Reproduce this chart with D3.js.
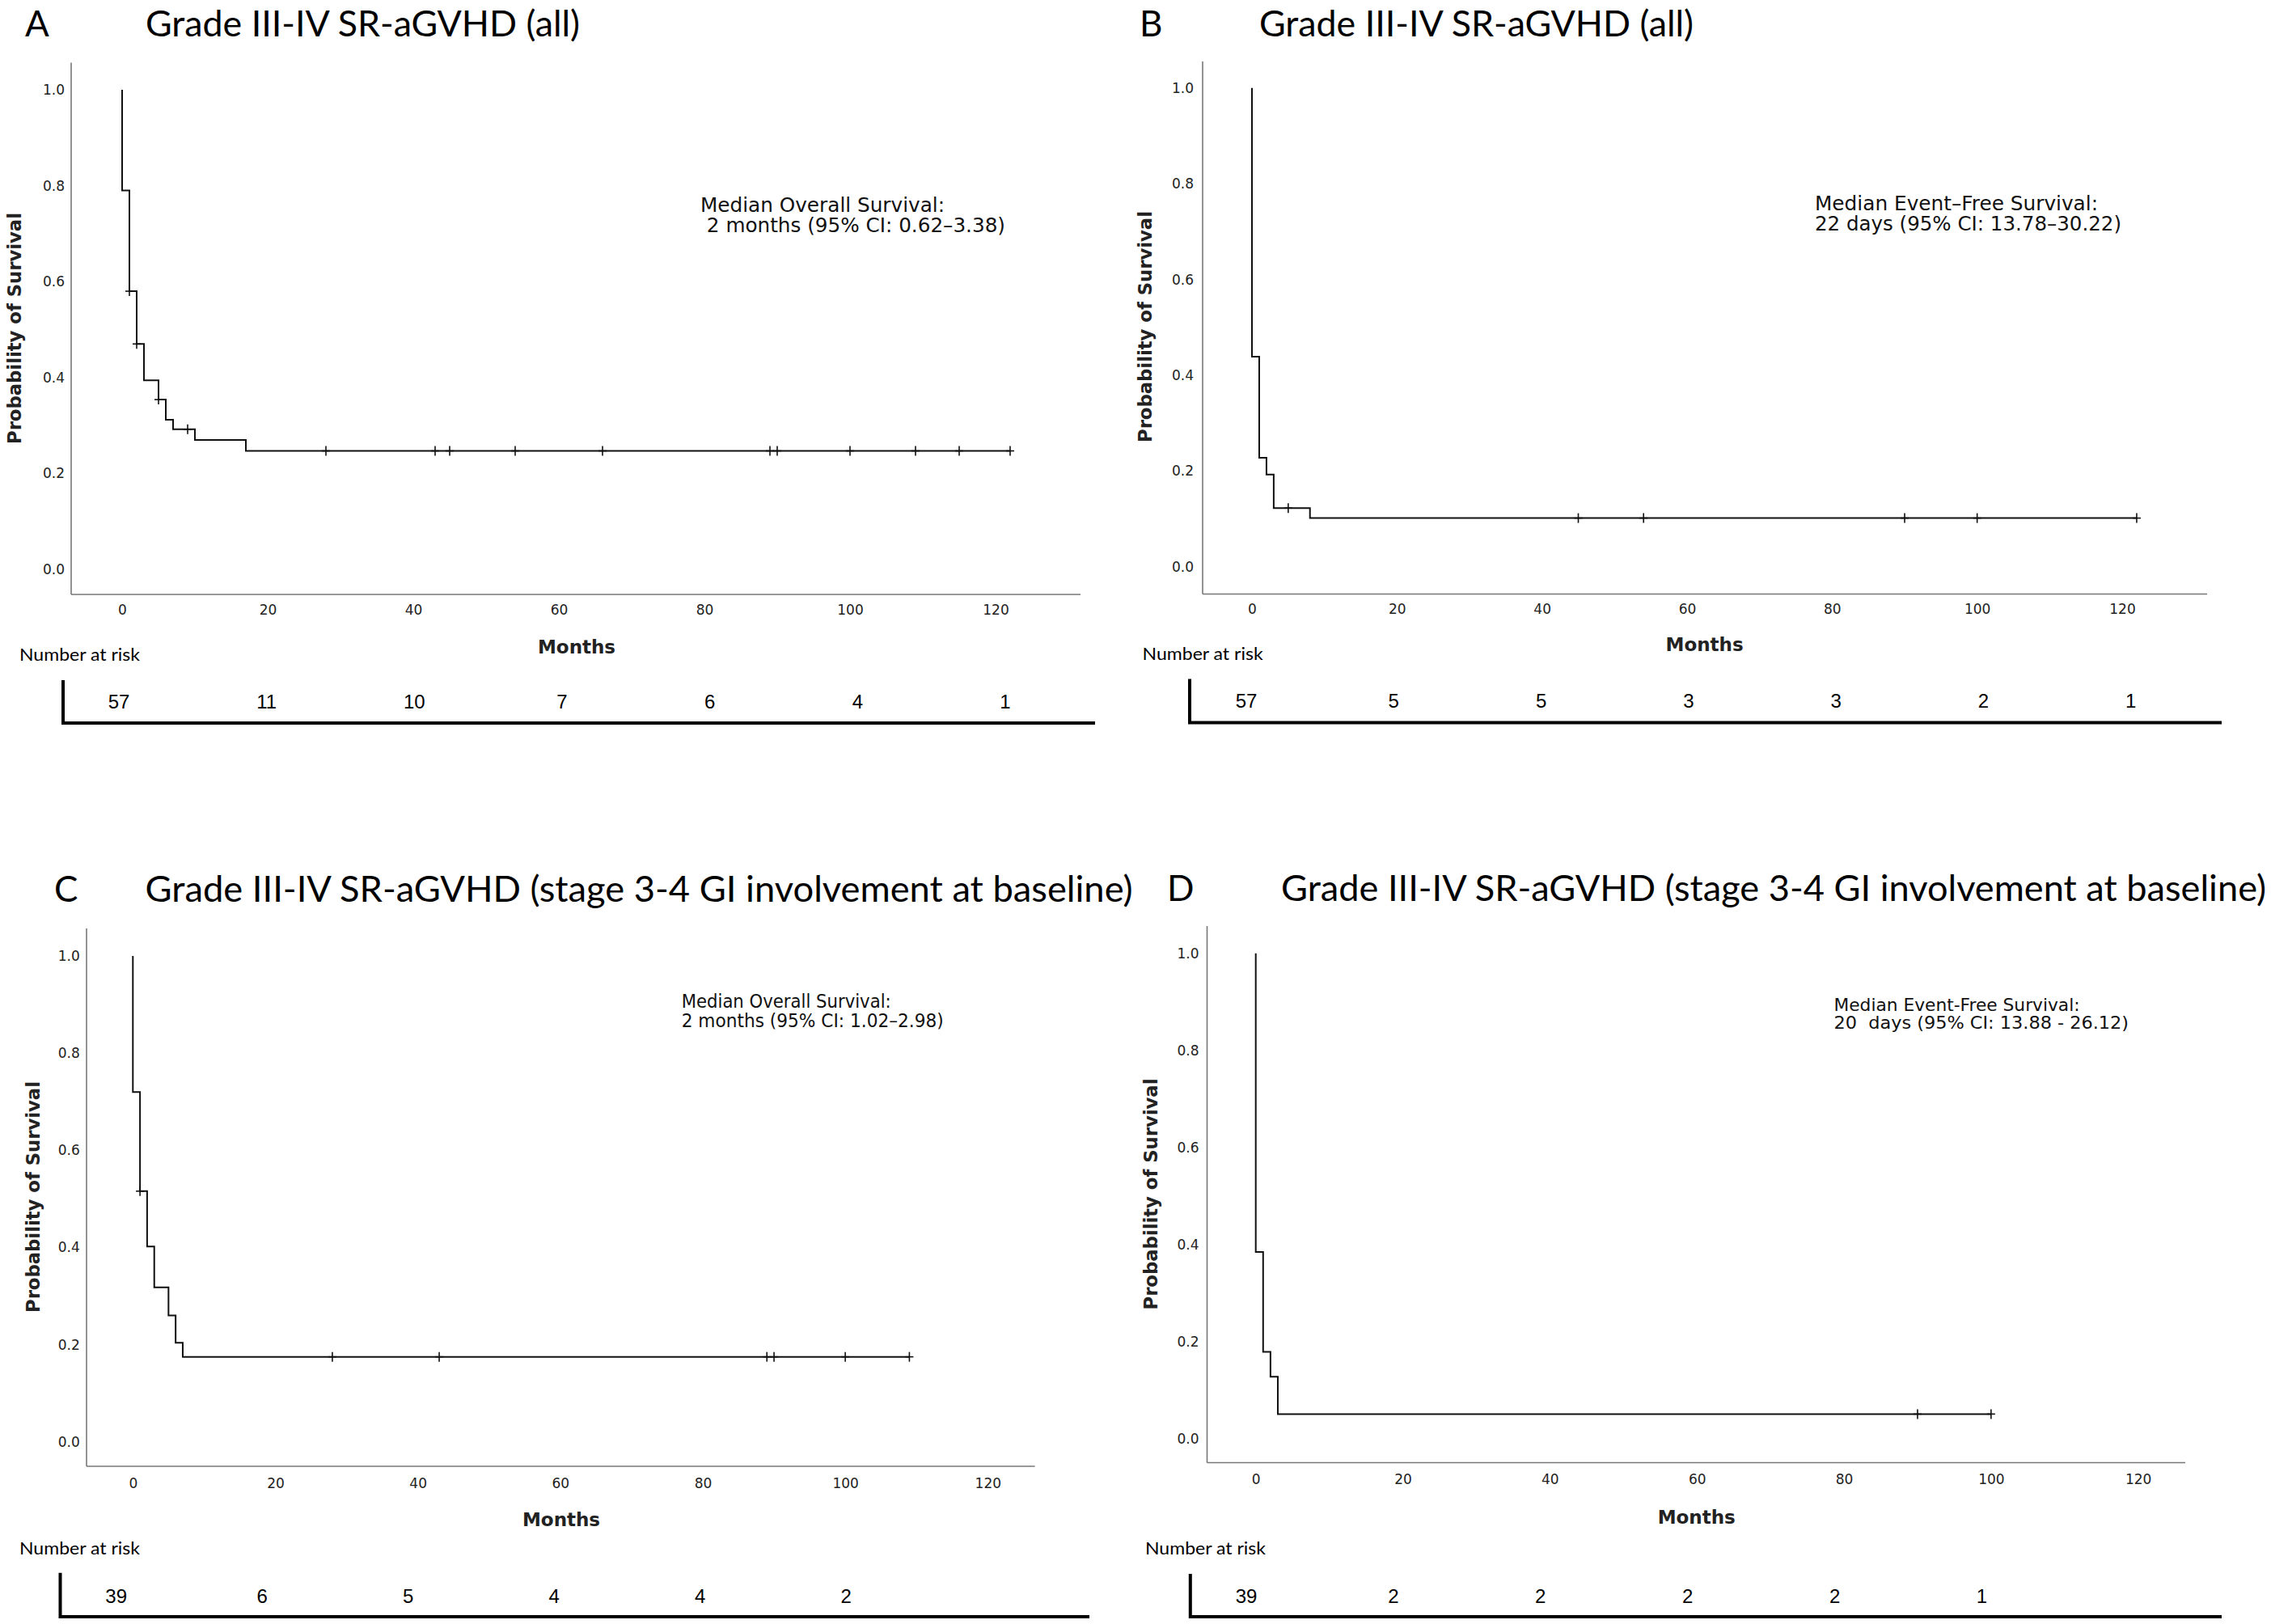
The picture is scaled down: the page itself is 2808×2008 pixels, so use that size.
<!DOCTYPE html>
<html><head><meta charset="utf-8">
<script src="https://cdn.jsdelivr.net/npm/d3@7"></script>
<style>
body{margin:0;background:#fff}
svg{display:block;background:#fff}
text{white-space:pre}
</style>
</head><body>
<svg id="chart" width="2808" height="2008"></svg>
<script>
// ---------- DATA ----------
const monthTicks = [0, 20, 40, 60, 80, 100, 120];
const survTicks = [0, 0.2, 0.4, 0.6, 0.8, 1.0];
const riskMonths = [0, 20, 40, 60, 80, 100, 120];

// Panel A: overall survival, all patients
const aEventTimes = [0, 1, 2, 3, 5, 6, 7, 10, 17];
const aSurvival   = [0.79, 0.58, 0.47, 0.394, 0.354, 0.312, 0.292, 0.27, 0.247];
const aCensorTimes = [1, 2, 5, 9, 28, 43, 45, 54, 66, 89, 90, 100, 109, 115, 122];
const aRisk = [57, 11, 10, 7, 6, 4, 1];

// Panel B: event-free survival, all patients
const bEventTimes = [0, 1, 2, 3, 8];
const bSurvival   = [0.439, 0.228, 0.193, 0.123, 0.102];
const bCensorTimes = [5, 45, 54, 90, 100, 122];
const bRisk = [57, 5, 5, 3, 3, 2, 1];

// Panel C: overall survival, stage 3-4 GI
const cEventTimes = [0, 1, 2, 3, 5, 6, 7];
const cSurvival   = [0.72, 0.516, 0.402, 0.318, 0.26, 0.204, 0.175];
const cCensorTimes = [1, 28, 43, 89, 90, 100, 109];
const cRisk = [39, 6, 5, 4, 4, 2];

// Panel D: event-free survival, stage 3-4 GI
const dEventTimes = [0, 1, 2, 3];
const dSurvival   = [0.385, 0.179, 0.128, 0.051];
const dCensorTimes = [90, 100];
const dRisk = [39, 2, 2, 2, 2, 1];

const titleAll = "Grade III-IV SR-aGVHD (all)";
const titleGI = "Grade III-IV SR-aGVHD (stage 3-4 GI involvement at baseline)";
const noteA = ["Median Overall Survival:", " 2 months (95% CI: 0.62\u20133.38)"];
const noteB = ["Median Event\u2013Free Survival:", "22 days (95% CI: 13.78\u201330.22)"];
const noteC = ["Median Overall Survival:", "2 months (95% CI: 1.02\u20132.98)"];
const noteD = ["Median Event-Free Survival:", "20  days (95% CI: 13.88 - 26.12)"];

// ---------- LAYOUT ----------
const panels = [
  {letter:"A", title:titleAll, times:aEventTimes, surv:aSurvival, cens:aCensorTimes, risk:aRisk, note:noteA,
   letterX:31, titleX:180, titleBase:44.5, titleW:537,
   axX:88, axTop:77.6, axY:735, axRight:1336,
   x0:151, x120:1231, y0:704, y1:111,
   tickRight:80, xTickBase:760,
   monthsX:713, monthsBase:808, ylabX:18, ylabY:406,
   noteX:866, noteBase:[261.7, 287.3], noteW:[302, 377], noteFs:24,
   narX:24, narBase:816.7,
   rLineX:78, rTop:841, rBot:896, rRight:1354, r0:147, r120:1243, rBase:875.7},
  {letter:"B", title:titleAll, times:bEventTimes, surv:bSurvival, cens:bCensorTimes, risk:bRisk, note:noteB,
   letterX:1409, titleX:1557, titleBase:44.5, titleW:537,
   axX:1487, axTop:76, axY:734.5, axRight:2729,
   x0:1548, x120:2624, y0:701, y1:108.7,
   tickRight:1476, xTickBase:758.5,
   monthsX:2107.6, monthsBase:805, ylabX:1416, ylabY:404,
   noteX:2244, noteBase:[259.5, 285], noteW:[350, 379], noteFs:24.5,
   narX:1412.6, narBase:816,
   rLineX:1471, rTop:839.6, rBot:895.5, rRight:2747, r0:1541, r120:2634.7, rBase:875},
  {letter:"C", title:titleGI, times:cEventTimes, surv:cSurvival, cens:cCensorTimes, risk:cRisk, note:noteC,
   letterX:67, titleX:179.6, titleBase:1115, titleW:1221,
   axX:107, axTop:1148, axY:1813, axRight:1279.6,
   x0:164.3, x120:1221.3, y0:1782.8, y1:1182,
   tickRight:98.8, xTickBase:1839.5,
   monthsX:694, monthsBase:1887, ylabX:41, ylabY:1480,
   noteX:842.7, noteBase:[1245.7, 1270], noteW:[259, 324], noteFs:23.5,
   narX:24, narBase:1922,
   rLineX:74.5, rTop:1944.7, rBot:2001, rRight:1347, r0:143.7, r120:1226.7, rBase:1982},
  {letter:"D", title:titleGI, times:dEventTimes, surv:dSurvival, cens:dCensorTimes, risk:dRisk, note:noteD,
   letterX:1443, titleX:1584, titleBase:1114, titleW:1218,
   axX:1492.5, axTop:1145, axY:1808.5, axRight:2702,
   x0:1552.7, x120:2643.7, y0:1779, y1:1178.7,
   tickRight:1482.6, xTickBase:1835,
   monthsX:2097.7, monthsBase:1884, ylabX:1422.5, ylabY:1476.5,
   noteX:2267.5, noteBase:[1249.5, 1272], noteW:[304, 364.6], noteFs:22,
   narX:1416, narBase:1922,
   rLineX:1471.8, rTop:1946, rBot:2001, rRight:2747, r0:1541, r120:2632.4, rBase:1982}
];

const svg = d3.select("#chart");
svg.append("rect").attr("width", 2808).attr("height", 2008).attr("fill", "#fff");

const TITLE_FONT = "Lato, 'Open Sans', sans-serif";
const TICK_FONT = "'DejaVu Sans', Verdana, sans-serif";

function drawPanel(p) {
  const g = svg.append("g");
  const x = d3.scaleLinear().domain([0, 120]).range([p.x0, p.x120]);
  const y = d3.scaleLinear().domain([0, 1]).range([p.y0, p.y1]);
  const rx = d3.scaleLinear().domain([0, 120]).range([p.r0, p.r120]);

  // letter + title
  g.append("text").attr("x", p.letterX).attr("y", p.titleBase)
    .attr("font-family", TITLE_FONT).attr("font-size", 44).attr("fill", "#000").text(p.letter);
  g.append("text").attr("x", p.titleX).attr("y", p.titleBase)
    .attr("font-family", TITLE_FONT).attr("font-size", 44).attr("fill", "#000")
    .attr("textLength", p.titleW).attr("lengthAdjust", "spacingAndGlyphs").text(p.title);

  // axis lines
  g.append("line").attr("x1", p.axX).attr("x2", p.axX).attr("y1", p.axTop).attr("y2", p.axY)
    .attr("stroke", "#777").attr("stroke-width", 1.6);
  g.append("line").attr("x1", p.axX).attr("x2", p.axRight).attr("y1", p.axY).attr("y2", p.axY)
    .attr("stroke", "#777").attr("stroke-width", 1.6);

  // tick labels via d3 axes
  const yAxis = d3.axisLeft(y).tickValues(survTicks).tickFormat(d3.format(".1f")).tickSize(0).tickPadding(0);
  const ya = g.append("g").attr("transform", `translate(${p.tickRight},0)`).call(yAxis);
  const xAxis = d3.axisBottom(x).tickValues(monthTicks).tickFormat(d3.format("d")).tickSize(0).tickPadding(0);
  const xa = g.append("g").attr("transform", `translate(0,${p.xTickBase - 0.71 * 17})`).call(xAxis);
  [ya, xa].forEach(a => {
    a.select(".domain").remove();
    a.selectAll("text").attr("font-family", TICK_FONT).attr("font-size", 17).attr("fill", "#222");
  });

  // axis titles
  g.append("text").attr("x", p.monthsX).attr("y", p.monthsBase).attr("text-anchor", "middle")
    .attr("font-family", TICK_FONT).attr("font-weight", "bold").attr("font-size", 23).attr("fill", "#222")
    .text("Months");
  g.append("text").attr("transform", `translate(${p.ylabX},${p.ylabY}) rotate(-90)`)
    .attr("text-anchor", "middle").attr("dominant-baseline", "central")
    .attr("font-family", TICK_FONT).attr("font-weight", "bold").attr("font-size", 23).attr("fill", "#222")
    .attr("textLength", 286).attr("lengthAdjust", "spacingAndGlyphs")
    .text("Probability of Survival");

  // KM step curve
  const pts = [[0, 1]];
  p.times.forEach((t, i) => pts.push([t, p.surv[i]]));
  const endT = d3.max(p.cens.concat(p.times));
  pts.push([endT, p.surv[p.surv.length - 1]]);
  const line = d3.line().x(d => x(d[0])).y(d => y(d[1])).curve(d3.curveStepAfter);
  g.append("path").datum(pts).attr("d", line).attr("fill", "none")
    .attr("stroke", "#111").attr("stroke-width", 2);

  // censor marks
  const survAt = t => {
    let s = 1;
    p.times.forEach((tt, i) => { if (tt <= t) s = p.surv[i]; });
    return s;
  };
  const cg = g.append("g").attr("stroke", "#111").attr("stroke-width", 1.6);
  p.cens.forEach(t => {
    const cx = x(t), cy = y(survAt(t));
    cg.append("line").attr("x1", cx).attr("x2", cx).attr("y1", cy - 6).attr("y2", cy + 6);
    cg.append("line").attr("x1", cx - 5).attr("x2", cx + 5).attr("y1", cy).attr("y2", cy);
  });

  // annotation
  p.note.forEach((s, i) => {
    g.append("text").attr("x", p.noteX).attr("y", p.noteBase[i])
      .attr("font-family", TICK_FONT).attr("font-size", p.noteFs).attr("fill", "#111")
      .attr("textLength", p.noteW[i]).attr("lengthAdjust", "spacingAndGlyphs").text(s);
  });

  // number at risk
  g.append("text").attr("x", p.narX).attr("y", p.narBase)
    .attr("font-family", TITLE_FONT).attr("font-size", 22).attr("fill", "#000")
    .attr("textLength", 149).attr("lengthAdjust", "spacingAndGlyphs").text("Number at risk");
  g.append("path")
    .attr("d", `M${p.rLineX},${p.rTop}V${p.rBot - 2}H${p.rRight}`)
    .attr("fill", "none").attr("stroke", "#000").attr("stroke-width", 4);
  p.risk.forEach((n, i) => {
    g.append("text").attr("x", rx(riskMonths[i])).attr("y", p.rBase).attr("text-anchor", "middle")
      .attr("font-family", "'Liberation Sans', Arial, sans-serif").attr("font-size", 24).attr("fill", "#000")
      .text(n);
  });
}

panels.forEach(drawPanel);
</script>
</body></html>
